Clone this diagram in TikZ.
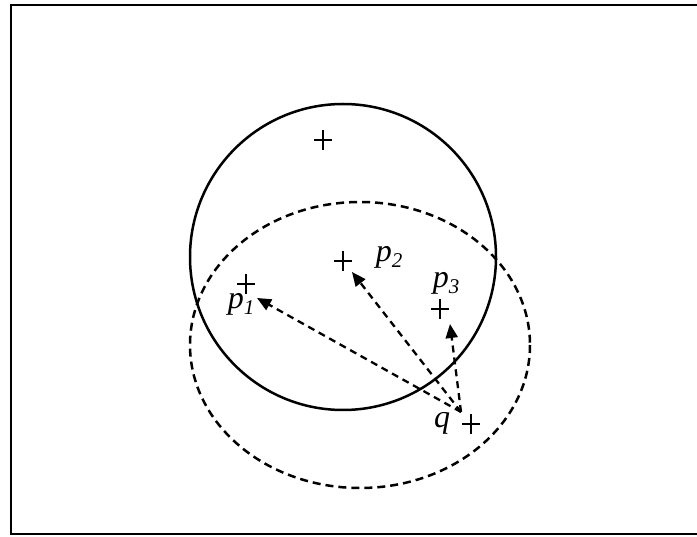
\documentclass[tikz,border=0pt]{standalone}
\usepackage{fontspec}
\setmainfont{Liberation Serif}
\usetikzlibrary{arrows.meta}
\newcommand{\mysub}[2]{#1\raisebox{-6pt}{\fontsize{21}{21}\selectfont #2}}
\begin{document}
\begin{tikzpicture}[x=1pt,y=-1pt,
  plusm/.pic={\draw[line width=2pt] (-9,0)--(9,0) (0,-10)--(0,10);},
  lab/.style={font=\fontsize{32}{32}\selectfont\itshape, inner sep=0pt},
  ptr/.style={dash pattern=on 7pt off 5pt, line width=2.3pt, -{Triangle[length=14pt,width=12pt]}},
  frame/.style={line width=2.5pt},
  solidc/.style={draw, circle, line width=2.5pt, minimum size=306pt, inner sep=0pt},
  dashc/.style={dash pattern=on 8pt off 5pt, line width=2.5pt},
]
\useasboundingbox (0,0) rectangle (697,537);
\fill[white] (0,0) rectangle (697,537);
\draw[frame] (697,5) -- (11,5) -- (11,534) -- (697,534);
% solid circle
\node[solidc] (C) at (343,257) {};
% dashed ellipse
\draw[dashc] (360,345) ellipse [x radius=170, y radius=143];
% points
\coordinate (c0) at (323,140);
\coordinate (p1) at (246,284);
\coordinate (p2) at (343,261);
\coordinate (p3) at (440,309);
\coordinate (q) at (471,424);
\pic at (c0) {plusm};
\pic at (p1) {plusm};
\pic at (p2) {plusm};
\pic at (p3) {plusm};
\pic at (q) {plusm};
% arrow ends
\coordinate (qs) at (461,412);
\coordinate (a1) at (257,298);
\coordinate (a2) at (352,272);
\coordinate (a3) at (450,324);
\draw[ptr] (qs) -- (a1);
\draw[ptr] (qs) -- (a2);
\draw[ptr] (qs) -- (a3);
% labels
\node[lab] (l1) at (241,304) {\mysub{p}{1}};
\node[lab] (l2) at (389,257) {\mysub{p}{2}};
\node[lab] (l3) at (446,283) {\mysub{p}{3}};
\node[lab] (lq) at (442,423) {q};
\end{tikzpicture}
\end{document}
